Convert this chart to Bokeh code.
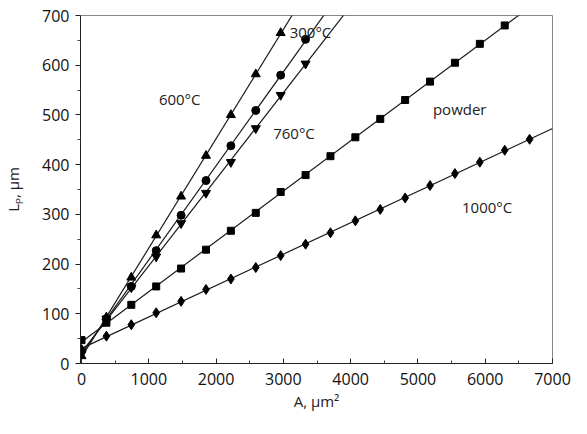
import numpy as np
from bokeh.plotting import figure
from bokeh.models import FixedTicker, Range1d, ColumnDataSource
from bokeh.core.properties import value
from bokeh.embed import file_html
from bokeh.resources import INLINE

# ---- data ----
area = [0, 370, 740, 1110, 1480, 1850, 2220, 2590, 2960, 3330, 3700, 4070,
        4440, 4810, 5180, 5550, 5920, 6290, 6660]

t600 = [15, 93, 173, 258, 336, 418, 500, 582, 665]
t300 = [25, 90, 155, 227, 298, 368, 438, 509, 580, 652]
t760 = [20, 90, 153, 215, 282, 343, 405, 473, 540, 603]
powder = [47, 82, 118, 155, 191, 229, 267, 303, 345, 379, 417, 455, 492,
          530, 567, 605, 643, 680]
t1000 = [28, 55, 78, 102, 125, 149, 170, 193, 217, 240, 263, 287, 310, 333,
         358, 382, 405, 429, 451]

label_text = ["600°C", "300°C", "760°C", "powder", "1000°C"]
label_x = [1150, 3094, 2849, 5223, 5655]
label_y = [532, 666, 464, 512, 314]

x_ticks = [0, 1000, 2000, 3000, 4000, 5000, 6000, 7000]
y_ticks = [0, 100, 200, 300, 400, 500, 600, 700]

FONT = "Open Sans"

p = figure(frame_width=472, frame_height=348, output_backend="svg",
           toolbar_location=None,
           x_range=Range1d(-15, 7000), y_range=Range1d(0, 700),
           min_border_left=80, min_border_right=19, min_border_top=15,
           min_border_bottom=55)
p.grid.visible = False
p.outline_line_color = "#555555"
p.outline_line_alpha = 0.7
p.background_fill_color = "white"
p.border_fill_color = "white"

series = [
    (t600, "triangle", 9),
    (t300, "circle", 8),
    (t760, "inverted_triangle", 9),
    (powder, "square", 7),
    (t1000, "diamond", 10),
]
x_end = x_ticks[-1]
for ys, marker, size in series:
    xs = area[:len(ys)]
    k, b = np.polyfit(xs, ys, 1)
    fx = [0, x_end]
    p.line(fx, [b + k * v for v in fx], line_color="#1a1a1a", line_width=1.2)
    p.scatter(xs, ys, marker=marker, size=size, fill_color="black",
              line_color="black")

src = ColumnDataSource(dict(x=label_x, y=label_y, t=label_text))
p.text(x="x", y="y", text="t", source=src, text_font=value(FONT),
       text_font_size="15px", text_color="#222222", text_align="left",
       text_baseline="middle")

# axes
p.xaxis.ticker = FixedTicker(ticks=x_ticks,
                             minor_ticks=[v + 500 for v in x_ticks[:-1]])
p.yaxis.ticker = FixedTicker(ticks=y_ticks,
                             minor_ticks=[v + 50 for v in y_ticks[:-1]])
for ax in (p.xaxis[0], p.yaxis[0]):
    ax.major_label_text_font = FONT
    ax.major_label_text_font_size = "16px"
    ax.major_label_text_color = "#111111"
    ax.axis_label_text_font = FONT
    ax.axis_label_text_font_size = "15px"
    ax.axis_label_text_font_style = "normal"
    ax.axis_label_text_color = "#222222"
    ax.axis_line_color = "#222222"
    ax.major_tick_line_color = "#222222"
    ax.minor_tick_line_color = "#444444"

p.xaxis.axis_label = "A, µm²"
p.xaxis.major_tick_in = 5
p.xaxis.major_tick_out = 0
p.xaxis.minor_tick_in = 3
p.xaxis.minor_tick_out = 0
p.xaxis.major_label_standoff = 9
p.xaxis.axis_label_standoff = 3

p.yaxis.axis_label = "Lₚ, µm"
p.yaxis.major_tick_in = 0
p.yaxis.major_tick_out = 5
p.yaxis.minor_tick_in = 0
p.yaxis.minor_tick_out = 3
p.yaxis.major_label_standoff = 6
p.yaxis.axis_label_standoff = 16

open("out.html", "w").write(file_html(p, INLINE))
